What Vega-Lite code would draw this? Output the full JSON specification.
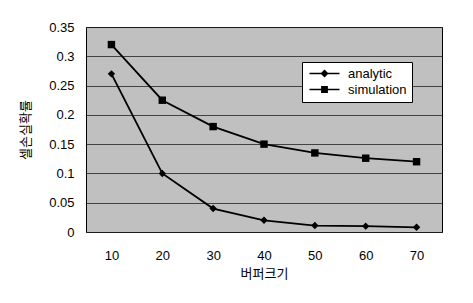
{
  "$schema": "https://vega.github.io/schema/vega-lite/v6.json",
  "width": 356,
  "height": 205,
  "autosize": "none",
  "padding": {"left": 86, "top": 27, "right": 31, "bottom": 71},
  "background": "white",
  "data": {"values": [
    {"buffer": 10, "series": "analytic", "p": 0.27},
    {"buffer": 20, "series": "analytic", "p": 0.10},
    {"buffer": 30, "series": "analytic", "p": 0.04},
    {"buffer": 40, "series": "analytic", "p": 0.02},
    {"buffer": 50, "series": "analytic", "p": 0.011},
    {"buffer": 60, "series": "analytic", "p": 0.01},
    {"buffer": 70, "series": "analytic", "p": 0.008},
    {"buffer": 10, "series": "simulation", "p": 0.32},
    {"buffer": 20, "series": "simulation", "p": 0.225},
    {"buffer": 30, "series": "simulation", "p": 0.18},
    {"buffer": 40, "series": "simulation", "p": 0.15},
    {"buffer": 50, "series": "simulation", "p": 0.135},
    {"buffer": 60, "series": "simulation", "p": 0.126},
    {"buffer": 70, "series": "simulation", "p": 0.12}
  ]},
  "encoding": {
    "x": {"field": "buffer", "type": "ordinal", "scale": {"type": "point", "padding": 0.5},
      "axis": {"title": "버퍼크기", "labelAngle": 0, "domain": false, "ticks": false, "grid": false, "labelPadding": 17, "titlePadding": 5}},
    "y": {"field": "p", "type": "quantitative", "scale": {"domain": [0, 0.35]},
      "axis": {"title": "셀손실확률", "values": [0, 0.05, 0.1, 0.15, 0.2, 0.25, 0.3, 0.35], "format": "~g", "domain": false, "ticks": false, "labelPadding": 12, "titlePadding": 16}}
  },
  "layer": [
    {"mark": {"type": "line", "color": "black", "strokeWidth": 1.8},
     "encoding": {"detail": {"field": "series", "type": "nominal"}}},
    {"mark": {"type": "point", "filled": true, "color": "black", "size": 55, "opacity": 1},
     "encoding": {"shape": {"field": "series", "type": "nominal", "scale": {"domain": ["analytic", "simulation"], "range": ["diamond", "square"]}, "legend": null}}},
    {"transform": [{"filter": "datum.p < 0"}],
     "mark": {"type": "point", "filled": true, "color": "black", "size": 64, "opacity": 1},
     "encoding": {"shape": {"field": "series", "type": "nominal",
        "scale": {"domain": ["analytic", "simulation"], "range": ["M-3.75,-0.19H3.75V0.19H-3.75ZM0,-1L1,0L0,1L-1,0Z", "M-3.75,-0.19H3.75V0.19H-3.75ZM-0.85,-0.85H0.85V0.85H-0.85Z"]},
        "legend": {"title": null, "orient": "none", "legendX": 216, "legendY": 35,
          "symbolSize": 64, "symbolOffset": 11, "labelOffset": 17,
          "symbolFillColor": "black", "symbolOpacity": 1}}}}
  ],
  "resolve": {"scale": {"shape": "independent"}, "legend": {"shape": "independent"}},
  "config": {
    "font": "Liberation Sans",
    "view": {"fill": "#c0c0c0", "stroke": "black", "strokeWidth": 1},
    "axis": {"labelFont": "Liberation Sans", "labelFontSize": 13, "labelColor": "black", "titleFont": "Noto Sans CJK KR", "titleFontSize": 13, "titleFontWeight": "normal", "titleColor": "black", "gridColor": "#222222", "gridWidth": 1, "gridOpacity": 0.8},
    "legend": {"labelFont": "Liberation Sans", "labelFontSize": 13, "labelColor": "black", "fillColor": "white", "strokeColor": "black", "padding": 5, "rowPadding": 2}
  }
}
